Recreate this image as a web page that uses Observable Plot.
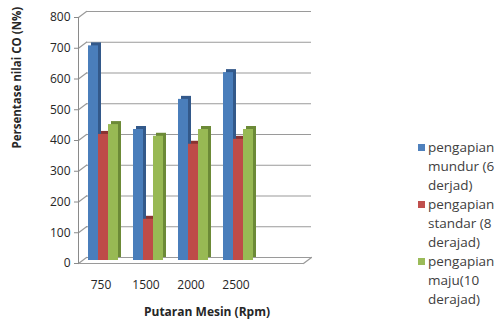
<!DOCTYPE html>
<html>
<head>
<meta charset="utf-8">
<script src="https://cdn.jsdelivr.net/npm/d3@7"></script>
<script src="https://cdn.jsdelivr.net/npm/@observablehq/plot@0.6"></script>
<style>
  html, body { margin: 0; padding: 0; background: #fff; }
  #wrap { position: relative; width: 499px; height: 325px; overflow: hidden; }
  #legend { position: absolute; left: 418px; top: 138px; font-family: "Open Sans", sans-serif; font-size: 13.5px; color: #404040; line-height: 19px; }
  .item { position: relative; padding-left: 10px; width: 74px; }
  .sw { position: absolute; left: 0; top: 6px; width: 7px; height: 7px; }
</style>
</head>
<body>
<div id="wrap"><div id="legend"></div></div>
<script>
const categories = ["750", "1500", "2000", "2500"];
const seriesNames = ["pengapian mundur (6 derjad)", "pengapian standar (8 derajad)", "pengapian maju(10 derajad)"];
const mundur = [698, 426, 524, 611];
const standar = [410, 134, 378, 394];
const maju = [442, 404, 426, 426];
const yTicks = [0, 100, 200, 300, 400, 500, 600, 700, 800];
const xLabel = "Putaran Mesin (Rpm)";
const yLabel = "Persentase nilai CO (N%)";

const frontColors = ["#4a7ebb", "#be4b48", "#98b954"];
const sideColors = ["#33598a", "#8a3331", "#6c8a37"];
const legendColors = ["#4f81bd", "#c0504d", "#9bbb59"];

const seriesValues = [mundur, standar, maju];
const table = [];
seriesValues.forEach((vals, s) => vals.forEach((v, i) => table.push({rpm: categories[i], series: seriesNames[s], s, value: v})));

const line = {draw(context, l) { context.moveTo(0, 0); context.lineTo(0, -l); }};

const marks = [
  Plot.ruleY(yTicks, {dx: 8, dy: -6, stroke: "#9a9a9a", strokeWidth: 1.2}),
  Plot.vector(yTicks, {y: d => d, frameAnchor: "left", rotate: 53, length: 10, anchor: "start", shape: line, stroke: "#9a9a9a", strokeWidth: 1.2}),
  Plot.vector([0], {y: d => d, frameAnchor: "right", rotate: 53, length: 10, anchor: "start", shape: line, stroke: "#9a9a9a", strokeWidth: 1.2}),
  Plot.ruleY([0], {stroke: "#9a9a9a", strokeWidth: 1.2}),
  Plot.frame({anchor: "left", stroke: "#8a8a8a"})
];
seriesNames.forEach((name, s) => {
  const rows = table.filter(d => d.s === s);
  marks.push(Plot.barY(rows, {x: "rpm", y: "value", fill: sideColors[s], insetLeft: 10 + 10 * s, insetRight: 25 - 10 * s, dx: 3, dy: -6}));
  marks.push(Plot.barY(rows, {x: "rpm", y: "value", fill: frontColors[s], insetLeft: 10 + 10 * s, insetRight: 25 - 10 * s, dy: -3}));
});
marks.push(
  Plot.axisY({ticks: yTicks, tickSize: 4, tickPadding: 4, stroke: "#8a8a8a", fill: "#262626", label: null, fontSize: 12}),
  Plot.axisX({tickSize: 0, tickPadding: 17, fill: "#262626", label: null, fontSize: 12, tickFormat: d => d}),
  Plot.text([yLabel], {text: d => d, frameAnchor: "left", rotate: -90, dx: -61, dy: 8, fontWeight: "bold", fontSize: 11.5, fill: "#262626"}),
  Plot.text([xLabel], {text: d => d, frameAnchor: "bottom", dx: 16, dy: 52, fontWeight: "bold", fontSize: 12, fill: "#262626"})
);

const chart = Plot.plot({
  width: 499,
  height: 325,
  marginLeft: 78,
  marginRight: 196,
  marginTop: 17,
  marginBottom: 62,
  style: {fontFamily: "'Open Sans', sans-serif", fontSize: "12px", background: "#fff"},
  x: {type: "band", domain: categories.concat([""]), padding: 0},
  y: {domain: [0, 800]},
  marks
});
const wrap = document.getElementById("wrap");
wrap.insertBefore(chart, wrap.firstChild);

const legend = document.getElementById("legend");
seriesNames.forEach((name, s) => {
  const item = document.createElement("div");
  item.className = "item";
  const sw = document.createElement("span");
  sw.className = "sw";
  sw.style.background = legendColors[s];
  item.appendChild(sw);
  item.appendChild(document.createTextNode(name));
  legend.appendChild(item);
});
</script>
</body>
</html>
